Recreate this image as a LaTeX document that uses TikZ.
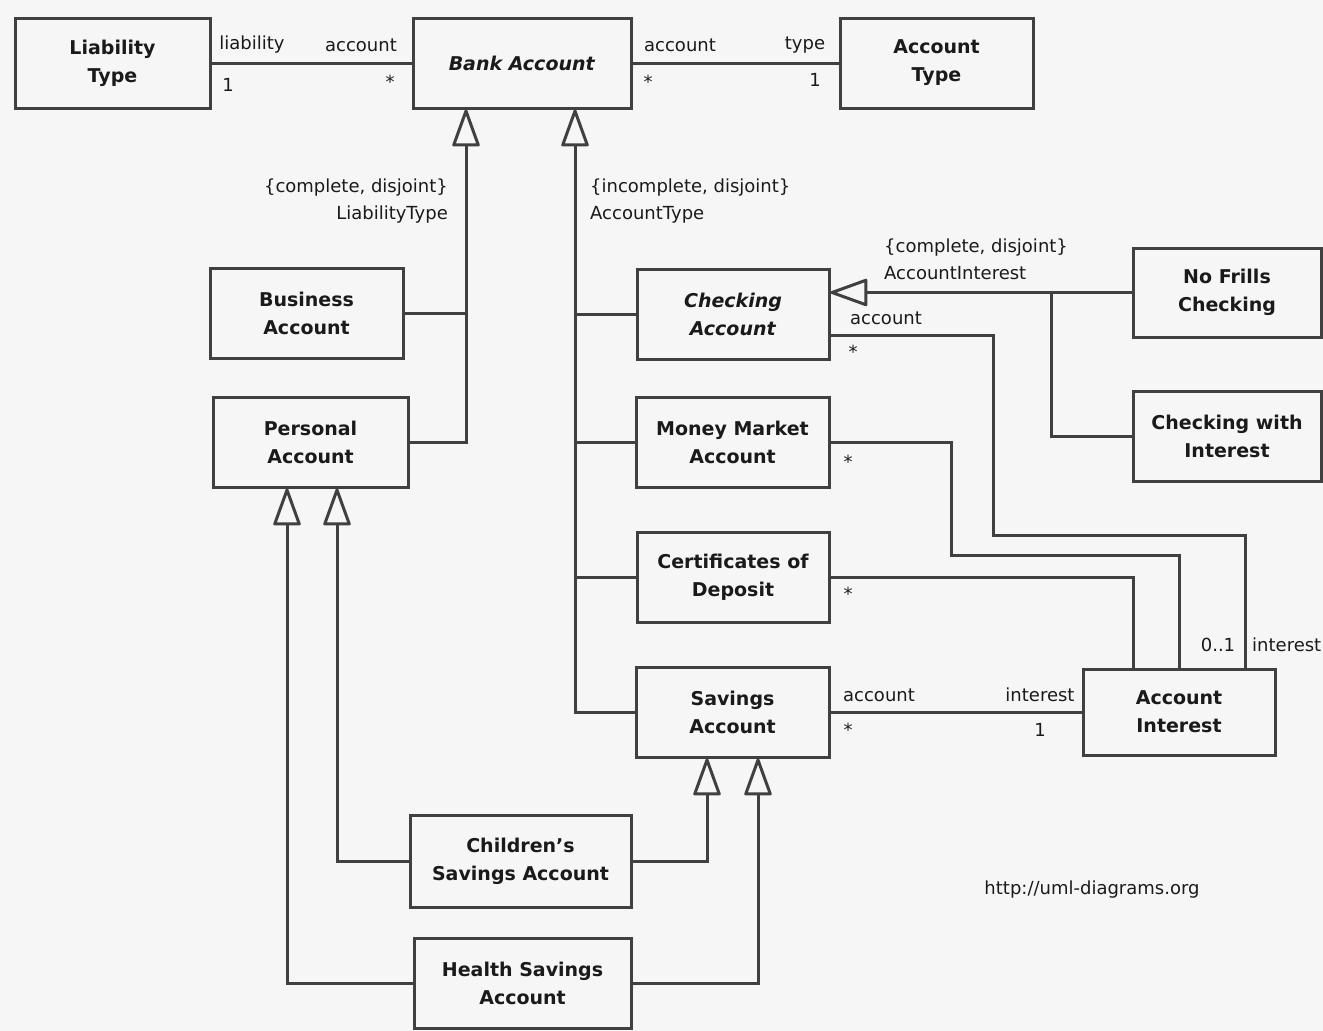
\documentclass[tikz,border=0pt]{standalone}
\usepackage{fontspec}
\setmainfont{DejaVu Sans}
\usetikzlibrary{arrows.meta}
\definecolor{bg}{HTML}{F6F6F6}
\definecolor{ln}{HTML}{404040}
\definecolor{tx}{HTML}{1A1A1A}
\begin{document}
\begin{tikzpicture}[x=1pt,y=-1pt,
  cls/.style={draw=ln, line width=3pt, fill=bg, align=center, text=tx,
    font=\fontsize{19}{28}\selectfont\bfseries, inner sep=0pt},
  lbl/.style={text=tx, font=\fontsize{18}{27}\selectfont, inner sep=0pt},
  conn/.style={draw=ln, line width=3pt},
  gen/.style={conn, -{Triangle[length=40pt, width=28pt, fill=bg, round]}}]
\fill[bg] (0,0) rectangle (1323,1031);
\useasboundingbox (0,0) rectangle (1323,1031);

% classes
\node[cls, minimum width=195pt, minimum height=90pt] (lt) at (112.5,63) {Liability\\Type};
\node[cls, minimum width=218pt, minimum height=90pt] (ba) at (522,63) {\textit{Bank Account}};
\node[cls, minimum width=193pt, minimum height=90pt] (at) at (936.5,63) {Account\\Type};
\node[cls, minimum width=193pt, minimum height=90pt] (business) at (306.5,313) {Business\\Account};
\node[cls, minimum width=195pt, minimum height=90pt] (personal) at (310.5,442) {Personal\\Account};
\node[cls, minimum width=192pt, minimum height=90pt] (checking) at (733,314) {\textit{Checking}\\\textit{Account}};
\node[cls, minimum width=193pt, minimum height=90pt] (mm) at (732.5,442) {Money Market\\Account};
\node[cls, minimum width=192pt, minimum height=90pt] (cd) at (733,577) {Certificates of\\Deposit};
\node[cls, minimum width=193pt, minimum height=90pt] (savings) at (732.5,712) {Savings\\Account};
\node[cls, minimum width=188pt, minimum height=89pt] (nofrills) at (1227,292.5) {No Frills\\Checking};
\node[cls, minimum width=188pt, minimum height=90pt] (cwi) at (1227,436) {Checking with\\Interest};
\node[cls, minimum width=192pt, minimum height=86pt] (ai) at (1179,712) {Account\\Interest};
\node[cls, minimum width=221pt, minimum height=92pt] (children) at (520.5,861) {Children's\\Savings Account};
\node[cls, minimum width=217pt, minimum height=90pt] (health) at (522.5,983) {Health Savings\\Account};

% associations
\draw[conn] (lt) -- (ba);
\draw[conn] (ba) -- (at);
\draw[conn] ([yshift=-21pt]checking.east) -| (993,535) -| ([xshift=66pt]ai.north);
\draw[conn] (mm.east) -| (951,555) -| (ai.north);
\draw[conn] (cd.east) -| ([xshift=-46pt]ai.north);
\draw[conn] (savings) -- (ai);

% generalizations from Bank Account
\coordinate (ta) at ([xshift=-56pt]ba.south);
\coordinate (tb) at ([xshift=53pt]ba.south);
\draw[gen] (personal.east) -| (ta);
\draw[conn] (business.east) -- (business.east -| ta);
\draw[gen] (savings.west) -| (tb);
\draw[conn] (checking.west) -- (checking.west -| tb);
\draw[conn] (mm.west) -- (mm.west -| tb);
\draw[conn] (cd.west) -- (cd.west -| tb);

% generalizations to Checking Account
\coordinate (cj) at ([xshift=-80pt]nofrills.west);
\draw[gen] (nofrills.west) -- (nofrills.west -| checking.east);
\draw[conn] (cwi.west) -| (cj);

% generalizations to Personal / Savings
\draw[gen] (children.west) -| ([xshift=26.5pt]personal.south);
\draw[gen] (health.west) -| ([xshift=-23.5pt]personal.south);
\draw[gen] (children.east) -| ([xshift=-25.5pt]savings.south);
\draw[gen] (health.east) -| ([xshift=25.5pt]savings.south);

% labels
\node[lbl] (l1) at (252,45) {liability};
\node[lbl] (l2) at (361,45) {account};
\node[lbl] (l3) at (228,85) {1};
\node[lbl] (l4) at (390,82) {*};
\node[lbl] (l5) at (680,45) {account};
\node[lbl] (l6) at (805,45) {type};
\node[lbl] (l7) at (648,82) {*};
\node[lbl] (l8) at (815,80) {1};
\node[lbl, align=right, anchor=east] (g1) at (448,201) {\{complete, disjoint\}\\LiabilityType};
\node[lbl, align=left, anchor=west] (g2) at (590,201) {\{incomplete, disjoint\}\\AccountType};
\node[lbl, align=left, anchor=west] (g3) at (884,259) {\{complete, disjoint\}\\AccountInterest};
\node[lbl] (l9) at (886,318) {account};
\node[lbl] (l10) at (853,352) {*};
\node[lbl] (l11) at (848,462) {*};
\node[lbl] (l12) at (848,594) {*};
\node[lbl] (l13) at (879,695) {account};
\node[lbl] (l14) at (1040,695) {interest};
\node[lbl] (l15) at (848,730) {*};
\node[lbl] (l16) at (1040,730) {1};
\node[lbl] (l17) at (1218,645) {0..1};
\node[lbl, anchor=west] (l18) at (1252,645) {interest};
\node[lbl] (url) at (1092,890) {http://uml-diagrams.org};
\end{tikzpicture}
\end{document}
